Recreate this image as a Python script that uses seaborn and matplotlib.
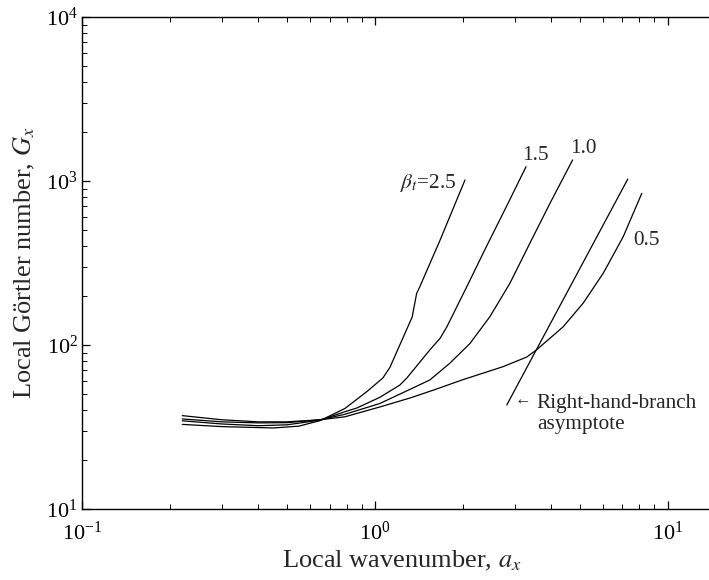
import numpy as np
import pandas as pd
import matplotlib
matplotlib.use("Agg")
import matplotlib.pyplot as plt
import seaborn as sns

# ---- data ----
beta_labels = ["2.5", "1.5", "1.0", "0.5"]

x_b25 = [0.22, 0.30, 0.45, 0.55, 0.65, 0.79, 0.939, 1.065, 1.125, 1.34, 1.388, 1.424, 1.67, 2.03]
y_b25 = [32.8, 31.8, 31.2, 32.0, 34.6, 41.0, 52.0, 63.0, 73.0, 148.0, 206.0, 227.0, 437.0, 1014.0]

x_b15 = [0.22, 0.30, 0.40, 0.50, 0.65, 0.79, 0.868, 1.04, 1.217, 1.286, 1.54, 1.67, 1.76, 2.06, 2.40, 2.81, 3.28]
y_b15 = [34.5, 33.0, 32.2, 32.6, 34.8, 39.2, 41.3, 48.0, 57.0, 63.0, 93.3, 110.0, 129.0, 227.0, 397.0, 697.0, 1222.0]

x_b10 = [0.22, 0.30, 0.40, 0.50, 0.65, 0.79, 1.04, 1.348, 1.54, 1.80, 2.11, 2.47, 2.89, 3.38, 3.96, 4.73]
y_b10 = [35.4, 34.0, 33.5, 33.6, 35.0, 37.8, 44.0, 54.7, 61.2, 77.3, 102.0, 149.0, 238.0, 417.0, 731.0, 1343.0]

x_b05 = [0.22, 0.30, 0.40, 0.50, 0.65, 0.79, 1.04, 1.317, 1.58, 2.00, 2.74, 3.30, 3.56, 4.39, 5.14, 6.02, 7.04, 8.15]
y_b05 = [37.1, 35.0, 34.0, 34.0, 35.0, 36.5, 41.9, 47.5, 53.0, 61.5, 73.8, 84.5, 93.3, 129.0, 180.0, 274.0, 457.0, 841.0]

x_asym = [2.82, 7.30]
y_asym = [43.1, 1028.0]

xs = [x_b25, x_b15, x_b10, x_b05]
ys = [y_b25, y_b15, y_b10, y_b05]

frames = []
for lab, xv, yv in zip(beta_labels, xs, ys):
    frames.append(pd.DataFrame({"a": xv, "G": yv, "curve": "beta=" + lab}))
frames.append(pd.DataFrame({"a": x_asym, "G": y_asym, "curve": "asymptote"}))
df = pd.concat(frames, ignore_index=True)

# ---- style ----
sns.set_style("ticks")
plt.rcParams["font.family"] = ["Liberation Serif", "DejaVu Serif"]
plt.rcParams["mathtext.fontset"] = "stix"

fig = plt.figure(figsize=(7.09, 5.80), dpi=100)
W, H = 709.0, 580.0
left_px, right_px, top_px, bot_px = 82.0, 756.0, 17.0, 509.0
ax = fig.add_axes([left_px / W, 1 - bot_px / H, (right_px - left_px) / W, (bot_px - top_px) / H])

order = ["beta=2.5", "beta=1.5", "beta=1.0", "beta=0.5", "asymptote"]
sns.lineplot(data=df, x="a", y="G", hue="curve", hue_order=order,
             palette=["black"] * 5, sort=False, estimator=None,
             linewidth=0.9, legend=False, ax=ax)

ax.set_xscale("log")
ax.set_yscale("log")
ax.set_xlim(0.1, 20)
ax.set_ylim(10, 1e4)

for s in ax.spines.values():
    s.set_linewidth(1.0)
    s.set_color("black")

ax.tick_params(which="both", direction="in", top=True, right=True, colors="black")
ax.tick_params(which="major", length=6, width=0.9, labelsize=16)
ax.tick_params(which="minor", length=3.5, width=0.7)
ax.tick_params(axis="x", which="major", pad=9)
ax.tick_params(axis="y", which="major", pad=3)

ax.set_xlabel("Local wavenumber, $a_x$", fontsize=19)
ax.set_ylabel("Local Görtler number, $G_x$", fontsize=19)
ax.xaxis.set_label_coords((402 - left_px) / (right_px - left_px), (bot_px - 549) / (bot_px - top_px))
ax.yaxis.set_label_coords((37 - left_px) / (right_px - left_px), 0.5)

# curve annotations
fs = 15.3
ax.text(1.905, 906, r"$\beta_t$=2.5", ha="right", va="baseline", fontsize=fs)
ax.text(3.17, 1343, "1.5", ha="left", va="baseline", fontsize=fs)
ax.text(4.63, 1476, "1.0", ha="left", va="baseline", fontsize=fs)
ax.text(7.60, 407, "0.5", ha="left", va="baseline", fontsize=fs)
ax.text(3.00, 45.6, "\u2190", ha="left", va="center", fontsize=12)
ax.text(3.57, 41.3, "Right-hand-branch", ha="left", va="baseline", fontsize=fs)
ax.text(3.57, 30.8, "asymptote", ha="left", va="baseline", fontsize=fs)

fig.savefig("out.png", dpi=100)
